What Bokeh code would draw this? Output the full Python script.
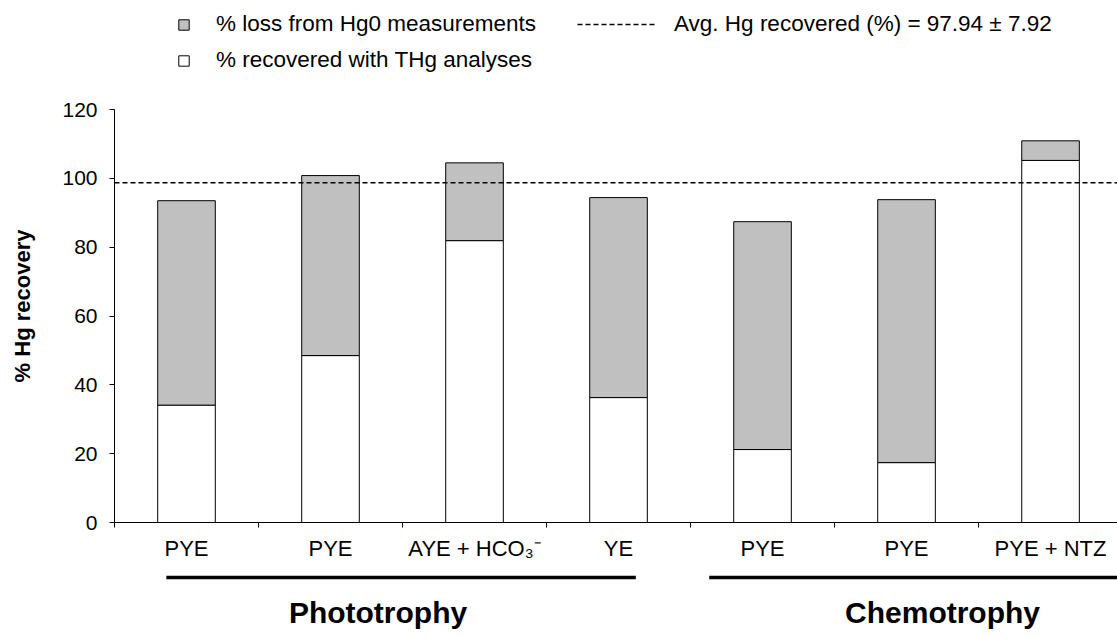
from bokeh.plotting import figure
from bokeh.models import Range1d, FixedTicker, Legend, LegendItem, ColumnDataSource
from bokeh.layouts import column
from bokeh.embed import file_html
from bokeh.resources import INLINE
from bokeh.core.properties import value

# ---- data ----
categories = ["PYE", "PYE", "AYE + HCO\u2083\u207b", "YE", "PYE", "PYE", "PYE + NTZ"]
recovered_thg = [34.1, 48.5, 81.9, 36.3, 21.2, 17.4, 105.2]   # % recovered with THg analyses
loss_hg0 = [59.4, 52.3, 22.6, 58.1, 66.2, 76.4, 5.7]          # % loss from Hg0 measurements
avg_line = 98.7                                                # dashed average line
y_ticks = [0, 20, 40, 60, 80, 100, 120]
groups = ["Phototrophy", "Chemotrophy"]
legend_labels = ["% loss from Hg0 measurements", "% recovered with THg analyses",
                 "Avg. Hg recovered (%) = 97.94 \u00b1 7.92"]

# ---- layout constants ----
FONT = "Liberation Sans"
W = 1117
H_LEG = 75
H_MAIN = 493
H_GROUP = 71
X_END = 6.965
Y_TOP = 120 * 433 / 413
GRAY = "#c0c0c0"
group_line_start = [0.36, 4.13]
group_line_end = [3.62, 7.2]
group_label_x = [1.83, 5.75]

n = len(categories)
xpos = [i + 0.5 for i in range(n)]
tops = [r + l for r, l in zip(recovered_thg, loss_hg0)]
src = ColumnDataSource(dict(x=xpos, rec=recovered_thg, top=tops))


def bare(fig):
    fig.outline_line_color = None
    fig.xgrid.visible = False
    fig.ygrid.visible = False


# ---- legend strip (top); its renderers hold no visible data, only styles ----
lf = figure(width=W, height=H_LEG, x_range=Range1d(0, 1), y_range=Range1d(0, 1),
            output_backend="svg", toolbar_location=None, x_axis_type=None, y_axis_type=None,
            min_border_left=114, min_border_right=0, min_border_top=0, min_border_bottom=0)
bare(lf)
nan = float("nan")
empty = ColumnDataSource(dict(x=[nan], y=[nan]))
lg_loss = lf.vbar(x="x", top="y", width=0.4, source=empty, fill_color=GRAY, line_color="black")
lg_rec = lf.vbar(x="x", top="y", width=0.4, source=empty, fill_color="white", line_color="black")
lg_avg = lf.line(x="x", y="y", source=empty, line_color="black", line_width=1.5, line_dash="5 3")

leg1 = Legend(items=[LegendItem(label=legend_labels[0], renderers=[lg_loss]),
                     LegendItem(label=legend_labels[1], renderers=[lg_rec])],
              location=(63, 2), glyph_width=13, glyph_height=13, label_standoff=26,
              spacing=10, padding=0, margin=0, border_line_alpha=0,
              background_fill_alpha=0, label_text_font=FONT,
              label_text_font_size="22.5px", label_text_color="black")
leg2 = Legend(items=[LegendItem(label=legend_labels[2], renderers=[lg_avg])],
              location=(463, 38), glyph_width=78, glyph_height=26, label_standoff=19,
              padding=0, margin=0, border_line_alpha=0, background_fill_alpha=0,
              label_text_font=FONT, label_text_font_size="22.5px", label_text_color="black")
lf.add_layout(leg1)
lf.add_layout(leg2)

# ---- main chart ----
xr = Range1d(0, X_END)
p = figure(width=W, height=H_MAIN, x_range=xr, y_range=Range1d(0, Y_TOP),
           output_backend="svg", toolbar_location=None,
           min_border_left=114, min_border_right=0, min_border_top=14, min_border_bottom=46)
bare(p)
p.background_fill_color = "white"

p.vbar(x="x", bottom=0, top="rec", width=0.4, source=src,
       fill_color="white", line_color="black", line_width=1)
p.vbar(x="x", bottom="rec", top="top", width=0.4, source=src,
       fill_color=GRAY, line_color="black", line_width=1)
p.line(x=[0, n], y=[avg_line, avg_line], line_color="black",
       line_width=1.5, line_dash="5 3")

xax = p.xaxis[0]
xax.ticker = FixedTicker(ticks=xpos, minor_ticks=list(range(n + 1)))
xax.major_label_overrides = {x: c for x, c in zip(xpos, categories)}
xax.major_tick_out = 0
xax.major_tick_in = 0
xax.minor_tick_out = 5
xax.minor_tick_in = 0
xax.major_label_standoff = 8
xax.major_label_text_font = FONT
xax.major_label_text_font_size = "22px"
xax.major_label_text_color = "black"
xax.axis_line_color = "black"
xax.minor_tick_line_color = "black"

yax = p.yaxis[0]
yax.ticker = FixedTicker(ticks=y_ticks, minor_ticks=[])
yax.bounds = (0, 120)
yax.major_tick_out = 5
yax.major_tick_in = 0
yax.minor_tick_line_color = None
yax.major_label_standoff = 12
yax.major_label_text_font = FONT
yax.major_label_text_font_size = "21px"
yax.major_label_text_color = "black"
yax.axis_line_color = "black"
yax.major_tick_line_color = "black"
yax.axis_label = "% Hg recovery"
yax.axis_label_text_font = FONT
yax.axis_label_text_font_size = "22px"
yax.axis_label_text_font_style = "bold"
yax.axis_label_text_color = "black"
yax.axis_label_standoff = 24

# ---- group strip (bottom) ----
g = figure(width=W, height=H_GROUP, x_range=xr, y_range=Range1d(0, H_GROUP),
           output_backend="svg", toolbar_location=None, x_axis_type=None, y_axis_type=None,
           min_border_left=114, min_border_right=0, min_border_top=0, min_border_bottom=0)
bare(g)
g.segment(x0=group_line_start, x1=group_line_end, y0=[62, 62], y1=[62, 62],
          line_color="black", line_width=3.5)
g.text(x=group_label_x, y=[27, 27], text=groups, text_align="center",
       text_baseline="middle", text_font=value(FONT), text_font_size="30px",
       text_font_style="bold", text_color="black")

layout = column(lf, p, g, spacing=0)
open("out.html", "w").write(file_html(layout, INLINE))
